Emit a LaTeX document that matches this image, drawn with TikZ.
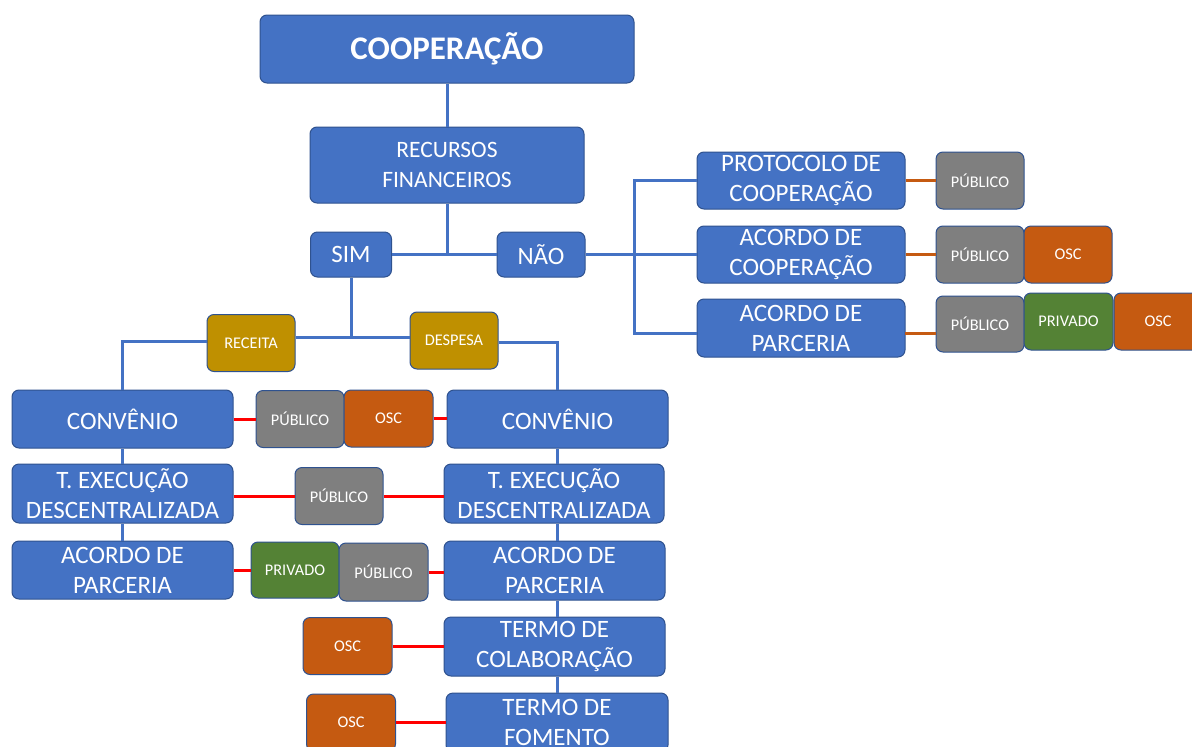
\documentclass[tikz,border=0pt]{standalone}
\usepackage{fontspec}
\setmainfont{Carlito}
\definecolor{boxblue}{HTML}{4472C4}
\definecolor{edgeblue}{HTML}{2F528F}
\definecolor{chipgrey}{HTML}{7F7F7F}
\definecolor{chiporange}{HTML}{C55A11}
\definecolor{chipgreen}{HTML}{548235}
\definecolor{chipgold}{HTML}{BF9000}
\definecolor{linkred}{HTML}{FF0000}
\begin{document}
\begin{tikzpicture}[x=1pt,y=-1pt,
  base/.style={draw=edgeblue, line width=1pt, rounded corners=7pt, text=white, align=center, inner sep=0pt},
  bigbox/.style={base, fill=boxblue, font=\fontsize{25}{30}\selectfont},
  chip/.style={base, font=\fontsize{16.3}{19}\selectfont},
  grey/.style={chip, fill=chipgrey},
  orng/.style={chip, fill=chiporange},
  grn/.style={chip, fill=chipgreen},
  gold/.style={chip, fill=chipgold},
  sz/.style 2 args={minimum width=#1pt, minimum height=#2pt},
  bl/.style={draw=boxblue, line width=3pt},
  rd/.style={draw=linkred, line width=3pt},
  og/.style={draw=chiporange, line width=3pt}]
\fill[white] (0,0) rectangle (1192,747);
\useasboundingbox (0,0) rectangle (1192,747);

% top
\node[bigbox, sz={374}{68}, font=\fontsize{33}{38}\selectfont\bfseries] (coop) at (447,49) {COOPERAÇÃO};
\node[bigbox, sz={274}{76}, font=\fontsize{23.5}{30}\selectfont] (rec) at (447,165) {RECURSOS\\FINANCEIROS};
\node[bigbox, sz={81}{45}] (sim) at (351,254.5) {SIM};
\node[bigbox, sz={88}{45}] (nao) at (541,254.5) {NÃO};

% right branch
\node[bigbox, sz={208}{57}] (prot) at (801,180.5) {PROTOCOLO DE\\COOPERAÇÃO};
\node[bigbox, sz={208}{57}] (acoop) at (801,254.5) {ACORDO DE\\COOPERAÇÃO};
\node[bigbox, sz={208}{58}] (aparc) at (801,328) {ACORDO DE\\PARCERIA};
\node[grey, sz={88}{57}] (rp1) at (980,180.5) {PÚBLICO};
\node[grey, sz={88}{57}] (rp2) at (980,254.5) {PÚBLICO};
\node[orng, sz={88}{57}] (ro2) at (1068,254.5) {OSC};
\node[grey, sz={88}{56}] (rp3) at (980,324) {PÚBLICO};
\node[grn, sz={89}{57}] (rv3) at (1068.5,321.5) {PRIVADO};
\node[orng, sz={88}{57}] (ro3) at (1158,321.5) {OSC};

% receita / despesa
\node[gold, sz={88}{57}] (receita) at (251,343) {RECEITA};
\node[gold, sz={88}{57}] (despesa) at (454,340.5) {DESPESA};

% left column
\node[bigbox, sz={221}{58}] (conv1) at (122.5,419) {CONVÊNIO};
\node[bigbox, sz={221}{59}] (texec1) at (122.5,493.5) {T. EXECUÇÃO\\DESCENTRALIZADA};
\node[bigbox, sz={221}{58}] (aparc1) at (122.5,570) {ACORDO DE\\PARCERIA};

% right column
\node[bigbox, sz={221}{58}] (conv2) at (557.5,419) {CONVÊNIO};
\node[bigbox, sz={220}{59}] (texec2) at (554,493.5) {T. EXECUÇÃO\\DESCENTRALIZADA};
\node[bigbox, sz={221}{59}] (aparc2) at (554.5,570.5) {ACORDO DE\\PARCERIA};
\node[bigbox, sz={221}{59}] (tcol) at (554.5,646.5) {TERMO DE\\COLABORAÇÃO};
\node[bigbox, sz={222}{59}] (tfom) at (557,722.5) {TERMO DE\\FOMENTO};

% middle chips
\node[grey, sz={88}{57}] (mp1) at (300,419) {PÚBLICO};
\node[orng, sz={89}{57}] (mo1) at (388.5,418.5) {OSC};
\node[grey, sz={88}{57}] (mp2) at (339,496) {PÚBLICO};
\node[grn, sz={88}{56}] (mv3) at (295,570) {PRIVADO};
\node[grey, sz={89}{58}] (mp3) at (383.5,572) {PÚBLICO};
\node[orng, sz={89}{57}] (mo4) at (347.5,646) {OSC};
\node[orng, sz={89}{57}] (mo5) at (351,722.5) {OSC};

% blue connectors
\coordinate (rj) at (447,254.5);
\draw[bl] (coop.south) -- (rec.north);
\draw[bl] (rec.south) -- (rj);
\draw[bl] (sim.east) -- (nao.west);
\coordinate (ntop) at (634,180.5);
\coordinate (nbot) at (634,333);
\draw[bl] (nao.east) -- (acoop.west);
\draw[bl] (prot.west) -- (ntop) -- (nbot) -- (nbot -| aparc.west);

\coordinate (sj) at (351,337);
\draw[bl] (sim.south) -- (sj);
\draw[bl] (receita.east |- sj) -- (despesa.west |- sj);
\coordinate (lc) at (122,341);
\draw[bl] (receita.west |- lc) -- (lc) -- (lc |- conv1.north);
\coordinate (rc) at (557,342);
\draw[bl] (despesa.east |- rc) -- (rc) -- (rc |- conv2.north);

\draw[bl] (conv1.south) -- (texec1.north);
\draw[bl] (texec1.south) -- (aparc1.north);
\draw[bl] (rc |- conv2.south) -- (rc |- texec2.north);
\draw[bl] (rc |- texec2.south) -- (rc |- aparc2.north);
\draw[bl] (rc |- aparc2.south) -- (rc |- tcol.north);
\draw[bl] (rc |- tcol.south) -- (rc |- tfom.north);

% orange connectors
\draw[og] (prot.east) -- (rp1.west);
\draw[og] (acoop.east) -- (rp2.west);
\coordinate (oj) at (905,333);
\draw[og] (oj) -- (oj -| rp3.west);

% red connectors (horizontal)
\draw[rd] (conv1.east) -- (mp1.west);
\draw[rd] (mo1.east) -- (mo1.east -| conv2.west);
\draw[rd] (texec1.east |- mp2.west) -- (mp2.west);
\draw[rd] (mp2.east) -- (mp2.east -| texec2.west);
\draw[rd] (aparc1.east) -- (aparc1.east -| mv3.west);
\draw[rd] (mp3.east) -- (mp3.east -| aparc2.west);
\draw[rd] (mo4.east) -- (mo4.east -| tcol.west);
\draw[rd] (mo5.east) -- (mo5.east -| tfom.west);
\end{tikzpicture}
\end{document}
